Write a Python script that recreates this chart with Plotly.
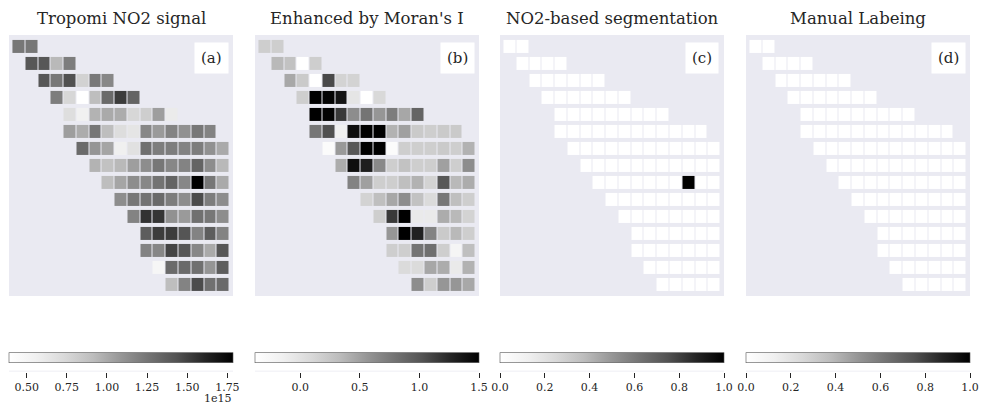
import numpy as np
import plotly.graph_objects as go

# Grid layout: 15 orbit rows x 17 pixel columns; each row holds a contiguous run of cells
n_rows, n_cols = 15, 17
row_start = [0, 1, 2, 3, 4, 4, 5, 6, 7, 8, 9, 10, 10, 11, 12]

# Tropomi NO2 column (units of 1e15 molec/cm^2)
no2_rows = [
    [1.24, 1.24],
    [1.41, 1.41, 0.93, 1.21],
    [1.41, 1.24, 1.44, 0.78, 1.23, 1.16],
    [1.21, 0.75, 0.39, 0.91, 1.31, 1.52, 1.34],
    [0.70, 0.55, 0.96, 1.00, 0.99, 0.75, 0.81, 1.05, 0.60],
    [1.05, 0.99, 1.24, 0.91, 0.71, 0.65, 1.16, 1.07, 1.18, 1.11, 1.24, 1.18],
    [1.31, 1.09, 1.02, 0.56, 0.68, 1.28, 1.21, 1.21, 1.18, 1.21, 1.11, 1.00],
    [0.96, 0.88, 0.93, 1.05, 1.13, 1.24, 1.16, 1.18, 1.34, 1.13, 0.93],
    [0.91, 1.02, 1.13, 1.16, 1.26, 1.34, 1.16, 1.785, 1.24, 1.00],
    [1.13, 1.24, 1.26, 1.31, 1.21, 1.13, 1.46, 1.21, 1.13],
    [1.18, 1.56, 1.55, 1.11, 1.07, 1.28, 1.24, 1.13],
    [1.38, 1.52, 1.52, 1.42, 1.18, 1.38, 1.18],
    [1.18, 1.16, 1.49, 1.41, 1.16, 1.00, 1.41],
    [0.50, 1.31, 1.31, 1.28, 1.09, 1.38],
    [0.91, 1.18, 1.46, 1.28, 1.31],
]

# Local Moran's I enhanced signal
moran_rows = [
    [0.18, 0.18],
    [0.35, 0.28, -0.38, 0.18],
    [0.45, 0.22, -0.38, 1.07, 0.14, 0.14],
    [0.18, 1.50, 1.48, 1.37, -0.03, -0.38, 0.09],
    [1.50, 1.48, 1.16, 0.62, 0.79, 0.56, 0.73, 0.46, 0.90],
    [0.77, 1.04, -0.15, 1.41, 1.50, 1.50, 0.39, 0.50, 0.22, 0.18, 0.22, 0.22],
    [-0.31, 0.54, 0.99, 1.50, 1.50, -0.31, 0.18, 0.18, 0.18, 0.22, 0.18, 0.39],
    [0.43, 1.41, 1.31, 0.65, 0.18, 0.28, 0.18, 0.18, 0.50, 0.18, 0.62],
    [0.69, 0.50, 0.18, 0.18, 0.31, 0.39, 0.14, 0.99, 0.35, 0.43],
    [0.14, 0.31, 0.46, 0.62, 0.28, 0.07, 0.77, 0.31, 0.18],
    [0.18, 1.16, 1.50, -0.08, -0.08, 0.43, 0.35, 0.14],
    [0.56, 1.50, 1.29, 0.69, 0.22, 0.35, 0.18],
    [0.18, 0.18, 0.79, 0.82, 0.18, -0.23, 0.31],
    [0.07, 0.07, 0.46, 0.43, -0.08, 0.39],
    [0.62, 0.18, 0.56, 0.56, 0.45],
]

# Binary masks: threshold segmentation hit and manual labels
seg_hits = [(8, 14)]
manual_hits = []

titles = ["Tropomi NO2 signal", "Enhanced by Moran's I", "NO2-based segmentation", "Manual Labeing"]
panel_tags = ["(a)", "(b)", "(c)", "(d)"]

no2_ticks = [0.50, 0.75, 1.00, 1.25, 1.50, 1.75]
moran_ticks = [0.0, 0.5, 1.0, 1.5]
mask_ticks = [0.0, 0.2, 0.4, 0.6, 0.8, 1.0]


def grid_from_rows(rows, scale=1.0):
    g = np.full((n_rows, n_cols), np.nan)
    for r, vals in enumerate(rows):
        s = row_start[r]
        g[r, s:s + len(vals)] = np.array(vals) * scale
    return g


def mask_grid(hits):
    g = np.full((n_rows, n_cols), np.nan)
    for r in range(n_rows):
        s = row_start[r]
        g[r, s:s + len(no2_rows[r])] = 0.0
    for r, c in hits:
        g[r, c] = 1.0
    return g


def to_z(g):
    return [[None if np.isnan(v) else float(v) for v in row] for row in g]


grids = [
    grid_from_rows(no2_rows, 1e15),
    grid_from_rows(moran_rows),
    mask_grid(seg_hits),
    mask_grid(manual_hits),
]
zranges = [
    (float(np.nanmin(grids[0])), float(np.nanmax(grids[0]))),
    (float(np.nanmin(grids[1])), float(np.nanmax(grids[1]))),
    (0.0, 1.0),
    (0.0, 1.0),
]
tick_sets = [
    ([t * 1e15 for t in no2_ticks], [f"{t:.2f}" for t in no2_ticks]),
    (moran_ticks, [f"{t:.1f}" for t in moran_ticks]),
    (mask_ticks, [f"{t:.1f}" for t in mask_ticks]),
    (mask_ticks, [f"{t:.1f}" for t in mask_ticks]),
]

greys = [[0.0, "#ffffff"], [0.125, "#f0f0f0"], [0.25, "#d9d9d9"], [0.375, "#bdbdbd"],
         [0.5, "#969696"], [0.625, "#737373"], [0.75, "#525252"], [0.875, "#252525"],
         [1.0, "#000000"]]

W, H = 982, 404
panel_px = [(9, 233), (255, 479), (500, 724), (746, 970)]
top_px, bot_px = 35, 296
cbar_mid_px = 358
cbar_tick_px = 371.5
serif = "DejaVu Serif"
ink = "#262626"

fig = go.Figure()
for i in range(4):
    x0, x1 = panel_px[i]
    zmin, zmax = zranges[i]
    tv, tt = tick_sets[i]
    ax = "" if i == 0 else str(i + 1)
    sx = str(i + 5)
    fig.add_trace(go.Heatmap(
        z=to_z(grids[i]),
        x=list(range(n_cols)), y=list(range(n_rows)),
        colorscale=greys, zmin=zmin, zmax=zmax,
        xgap=1, ygap=4, hoverongaps=False,
        xaxis="x" + ax, yaxis="y" + ax,
        colorbar=dict(
            orientation="h", lenmode="pixels", len=x1 - x0, thickness=10,
            x=(x0 + x1) / 2 / W, xanchor="center",
            y=1 - cbar_mid_px / H, yanchor="middle",
            xpad=0, ypad=0, outlinewidth=0.6, outlinecolor="#555555",
            ticks="", showticklabels=False,
        ),
    ))
    # Invisible carrier so the colour-bar tick scale gets drawn
    fig.add_trace(go.Scatter(
        x=[zmin, zmax], y=[0, 0], mode="markers", marker=dict(opacity=0),
        hoverinfo="skip", showlegend=False, xaxis="x" + sx, yaxis="y" + sx,
    ))
    fig.layout["xaxis" + ax] = dict(
        domain=[x0 / W, x1 / W], range=[-0.77, 16.77], showgrid=False,
        zeroline=False, showticklabels=False, ticks="", anchor="y" + ax,
        automargin=False,
    )
    fig.layout["yaxis" + ax] = dict(
        domain=[1 - bot_px / H, 1 - top_px / H], range=[14.67, -0.67],
        showgrid=False, zeroline=False, showticklabels=False, ticks="",
        anchor="x" + ax, automargin=False,
    )
    # Tick scale for the colour bar, spanning the same value range
    tick_y = 1 - cbar_tick_px / H
    fig.layout["xaxis" + sx] = dict(
        domain=[x0 / W, x1 / W], range=[zmin, zmax], anchor="y" + sx,
        side="bottom", showgrid=False, zeroline=False, showline=False,
        tickvals=tv, ticktext=tt, ticks="outside", ticklen=5, tickwidth=1,
        tickcolor=ink, tickfont=dict(family=serif, size=11, color=ink),
        fixedrange=True, automargin=False,
    )
    fig.layout["yaxis" + sx] = dict(
        domain=[tick_y, tick_y + 0.002], range=[-1, 1], visible=False,
        anchor="x" + sx, fixedrange=True, automargin=False,
    )
    fig.add_annotation(
        text=titles[i], xref="paper", yref="paper",
        x=(x0 + x1) / 2 / W, y=1 - 18 / H, xanchor="center", yanchor="middle",
        showarrow=False, font=dict(family=serif, size=16.5, color=ink),
    )
    fig.add_annotation(
        text=panel_tags[i], xref="paper", yref="paper",
        x=(x1 - 22) / W, y=1 - 58 / H, xanchor="center", yanchor="middle",
        showarrow=False, bgcolor="white", borderpad=6,
        font=dict(family=serif, size=15, color=ink),
    )

# Scale factor for the NO2 colour bar
fig.add_annotation(
    text="1e15", xref="paper", yref="paper", x=234 / W, y=1 - 398 / H,
    xanchor="right", yanchor="middle", showarrow=False,
    font=dict(family=serif, size=11, color=ink),
)

fig.update_layout(
    width=W, height=H, margin=dict(l=0, r=0, t=0, b=0, autoexpand=False),
    paper_bgcolor="white", plot_bgcolor="#eaeaf2", showlegend=False,
)

fig.write_html("out.html")
